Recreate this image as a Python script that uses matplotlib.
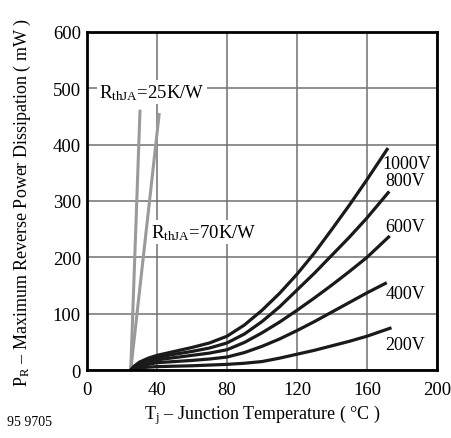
import matplotlib
matplotlib.use("Agg")
import matplotlib.pyplot as plt

plt.rcParams['font.family'] = ['Liberation Serif', 'DejaVu Serif']
plt.rcParams['mathtext.fontset'] = 'custom'
plt.rcParams['mathtext.rm'] = 'Liberation Serif'
plt.rcParams['mathtext.it'] = 'Liberation Serif:italic'

# Data
t_1000 = [25, 27, 30, 35, 40, 50, 60, 70, 80, 90, 100, 110, 120, 130, 140, 150, 160, 172]
p_1000 = [0, 7, 14, 21, 26, 33, 40, 48, 60, 80, 106, 136, 170, 208, 250, 293, 338, 394]
t_800 = [25, 27, 30, 35, 40, 50, 60, 70, 80, 90, 100, 110, 120, 130, 140, 150, 160, 172.7]
p_800 = [0, 6, 11, 18, 22, 28, 33, 39, 48, 64, 86, 112, 142, 172, 204, 236, 270, 317]
t_600 = [25, 27, 30, 35, 40, 50, 60, 70, 80, 90, 100, 110, 120, 130, 140, 150, 160, 173]
p_600 = [0, 5, 9, 14, 18, 22, 26, 30, 36, 49, 66, 85, 106, 128, 151, 175, 200, 238]
t_400 = [25, 27, 30, 35, 40, 50, 60, 70, 80, 90, 100, 110, 120, 130, 140, 150, 160, 171.3]
p_400 = [0, 4, 7, 10, 13, 15, 17, 19.5, 23, 31, 42, 55, 70, 86, 103, 120, 137, 155]
t_200 = [25, 27, 30, 35, 40, 60, 80, 90, 100, 110, 120, 130, 140, 150, 160, 174]
p_200 = [0, 2, 4, 5, 6, 7.5, 10, 12, 15, 21, 28, 35, 43, 51, 60, 75]

t_r25 = [25, 30.3]
p_r25 = [0, 462]
t_r70 = [25, 41.3]
p_r70 = [0, 456]

curve_labels = ['1000V', '800V', '600V', '400V', '200V']
label_x = [183, 182, 182, 182, 182]
label_y = [367, 336, 255, 136, 45]
x_ticks = [0, 40, 80, 120, 160, 200]
y_ticks = [0, 100, 200, 300, 400, 500, 600]

fig = plt.figure(figsize=(4.51, 4.39), dpi=100)
ax = fig.add_axes([87/451, 1-371/439, (437-87)/451, (371-33)/439])

ax.set_xlim(0, 200)
ax.set_ylim(0, 600)
ax.set_xticks(x_ticks)
ax.set_yticks(y_ticks)
ax.grid(True, color='#707070', linewidth=1.1, zorder=0)
ax.tick_params(length=0, labelsize=13.5)
ax.tick_params(axis='y', pad=4.5)
ax.tick_params(axis='x', pad=8)
for s in ax.spines.values():
    s.set_linewidth(2.0)
    s.set_color('black')
    s.set_zorder(6)

gray = '#9a9a9a'
ax.plot(t_r25, p_r25, color=gray, lw=2.2, solid_capstyle='butt', zorder=3)
ax.plot(t_r70, p_r70, color=gray, lw=2.2, solid_capstyle='butt', zorder=3)

series = [(t_1000, p_1000), (t_800, p_800), (t_600, p_600), (t_400, p_400), (t_200, p_200)]
for (t, p) in series:
    ax.plot(t, p, color='#1a1a1a', lw=2.3, solid_joinstyle='round', solid_capstyle='butt', zorder=4)

for lab, lx, ly in zip(curve_labels, label_x, label_y):
    ax.text(lx, ly, lab, fontsize=13, ha='center', va='center', zorder=5)

ax.text(7, 493, r'R$_{\mathrm{thJA}}$=25K/W', fontsize=13.5, ha='left', va='center', zorder=5,
        bbox=dict(facecolor='white', edgecolor='none', pad=1.5))
ax.text(36.5, 245, r'R$_{\mathrm{thJA}}$=70K/W', fontsize=13.5, ha='left', va='center', zorder=5,
        bbox=dict(facecolor='white', edgecolor='none', pad=1.5))

ax.set_xlabel(r'T$_{\mathrm{j}}$ – Junction Temperature ( °C )', fontsize=13, labelpad=3)
ax.set_ylabel(r'P$_{\mathrm{R}}$ – Maximum Reverse Power Dissipation ( mW )', fontsize=13, labelpad=14)
fig.text(7/451, 1-423/439, '95 9705', fontsize=10, ha='left', va='center')

fig.savefig('out.png', dpi=100)
